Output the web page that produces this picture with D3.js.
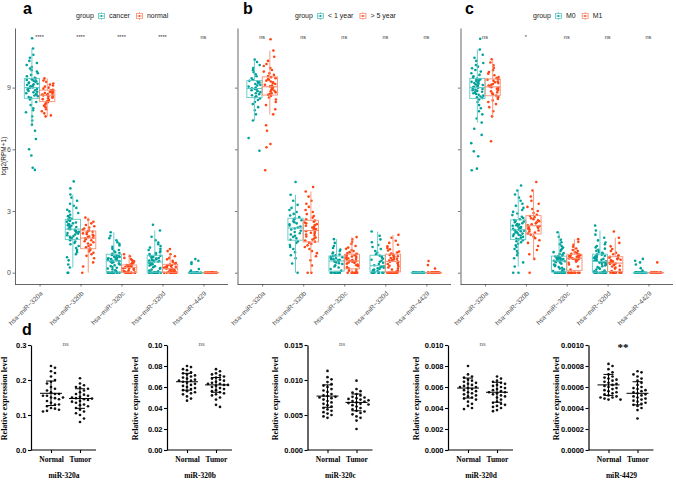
<!DOCTYPE html>
<html><head><meta charset="utf-8">
<script src="https://cdn.jsdelivr.net/npm/d3@7/dist/d3.min.js"></script>
<style>body{margin:0;background:#fff}svg{display:block}</style>
</head><body>
<svg id="chart" width="676" height="480"></svg>
<script>
// ---------------- DATA ----------------
const categories = ["hsa−miR−320a","hsa−miR−320b","hsa−miR−320c","hsa−miR−320d","hsa−miR−4429"];
const yTicks = [0, 3, 6, 9];
const groupsA = ["cancer", "normal"];
const groupsB = ["< 1 year", "> 5 year"];
const groupsC = ["M0", "M1"];
const sigA = ["****", "****", "****", "****", "ns"];
const sigB = ["ns", "ns", "ns", "ns", "ns"];
const sigC = ["ns", "*", "ns", "ns", "ns"];

// log2(RPM+1) values per category (one string per category)
const A_cancer = [
 "5.0 5.1 5.7 6.0 6.5 6.9 7.2 7.4 7.6 7.8 7.9 8.0 8.15 8.3 8.42 8.5 8.54 8.58 8.62 8.66 8.7 8.73 8.77 8.8 8.84 8.87 8.9 8.93 8.96 8.99 9.01 9.04 9.07 9.1 9.13 9.16 9.19 9.22 9.25 9.28 9.31 9.34 9.37 9.4 9.44 9.48 9.55 9.62 9.7 9.78 9.85 9.93 10.0 10.1 10.2 10.3 10.45 10.6 10.9 11.4",
 "0 0 0.25 0.4 0.6 0.75 0.9 1.0 1.1 1.2 1.3 1.38 1.45 1.52 1.58 1.62 1.66 1.7 1.74 1.78 1.82 1.86 1.9 1.93 1.96 1.99 2.02 2.05 2.08 2.11 2.13 2.16 2.19 2.22 2.25 2.28 2.31 2.34 2.37 2.4 2.44 2.48 2.52 2.55 2.59 2.62 2.68 2.75 2.82 2.9 2.98 3.06 3.15 3.25 3.35 3.5 3.65 3.8 4.1 4.44",
 "0 0 0 0 0 0 0 0 0 0 0 0 0 0 0 0.04 0.08 0.12 0.16 0.2 0.24 0.28 0.32 0.36 0.4 0.44 0.48 0.51 0.54 0.56 0.58 0.6 0.62 0.64 0.66 0.68 0.7 0.72 0.74 0.76 0.78 0.8 0.83 0.86 0.89 0.92 0.96 1.0 1.05 1.1 1.15 1.2 1.26 1.32 1.4 1.48 1.58 1.68 1.8 1.97",
 "0 0 0 0 0 0 0 0 0 0 0 0 0 0 0 0.03 0.07 0.11 0.15 0.19 0.23 0.27 0.31 0.35 0.38 0.41 0.44 0.47 0.49 0.51 0.53 0.55 0.57 0.59 0.61 0.63 0.65 0.67 0.69 0.71 0.73 0.76 0.79 0.82 0.84 0.87 0.91 0.95 1.0 1.05 1.1 1.16 1.22 1.3 1.38 1.47 1.58 1.75 2.05 2.33",
 "0 0 0 0 0 0 0 0 0 0 0 0 0 0 0 0 0 0 0 0 0 0 0 0 0.1 0.18 0.42 0.5 0.58 0.66"
];
const A_normal = [
 "7.6 7.65 7.75 7.85 7.95 8.05 8.12 8.18 8.24 8.29 8.33 8.36 8.4 8.44 8.48 8.51 8.54 8.57 8.6 8.62 8.64 8.66 8.69 8.71 8.74 8.76 8.79 8.82 8.85 8.87 8.9 8.95 9.0 9.05 9.1 9.15 9.2 9.28 9.35 9.45",
 "0 0.3 0.5 0.7 0.82 0.9 0.97 1.03 1.08 1.12 1.18 1.24 1.3 1.36 1.42 1.48 1.53 1.58 1.63 1.67 1.7 1.73 1.76 1.8 1.84 1.87 1.91 1.95 1.99 2.02 2.06 2.1 2.15 2.2 2.26 2.32 2.4 2.48 2.58 2.68",
 "0 0 0 0 0 0 0 0 0 0 0.02 0.05 0.08 0.11 0.14 0.17 0.19 0.21 0.23 0.24 0.26 0.28 0.29 0.31 0.32 0.33 0.34 0.35 0.36 0.37 0.39 0.42 0.46 0.5 0.55 0.6 0.66 0.72 0.8 0.9",
 "0 0 0 0 0 0 0 0 0 0 0.02 0.04 0.06 0.08 0.1 0.12 0.14 0.16 0.18 0.19 0.21 0.23 0.25 0.27 0.29 0.31 0.33 0.35 0.37 0.4 0.43 0.47 0.52 0.58 0.65 0.72 0.8 0.9 1.05 1.15",
 "0 0 0 0 0 0 0 0 0 0 0 0 0 0 0 0 0 0 0 0 0 0 0 0 0"
];
const B_lt1 = [
 "5.93 6.55 7.4 7.7 7.9 8.05 8.2 8.3 8.4 8.47 8.53 8.58 8.63 8.68 8.73 8.78 8.83 8.87 8.91 8.94 8.97 9.0 9.05 9.1 9.14 9.18 9.22 9.26 9.3 9.33 9.38 9.45 9.55 9.65 9.75 9.85 9.95 10.1 10.25 10.36",
 "0 0.45 0.7 0.85 1.0 1.15 1.25 1.35 1.45 1.52 1.6 1.67 1.74 1.8 1.86 1.92 1.98 2.04 2.1 2.15 2.2 2.25 2.3 2.35 2.4 2.45 2.5 2.55 2.6 2.63 2.7 2.78 2.86 2.95 3.05 3.15 3.3 3.5 3.79 4.41",
 "0 0 0 0 0 0 0 0 0 0 0.1 0.18 0.25 0.3 0.36 0.42 0.46 0.5 0.53 0.56 0.58 0.6 0.63 0.65 0.67 0.7 0.72 0.75 0.77 0.8 0.84 0.88 0.93 0.98 1.05 1.12 1.2 1.3 1.45 1.63",
 "0 0 0 0 0 0 0 0 0 0 0.05 0.08 0.12 0.15 0.18 0.21 0.24 0.27 0.3 0.32 0.36 0.42 0.48 0.53 0.58 0.63 0.68 0.73 0.78 0.83 0.9 0.97 1.05 1.15 1.25 1.35 1.48 1.62 1.8 2.0",
 "0 0 0 0 0 0 0 0 0 0 0 0 0 0 0 0 0 0 0 0 0 0 0 0 0"
];
const B_gt5 = [
 "4.98 6.1 6.26 6.9 7.17 7.7 7.95 8.15 8.3 8.42 8.52 8.6 8.65 8.69 8.73 8.77 8.81 8.85 8.89 8.92 8.95 8.98 9.01 9.03 9.06 9.1 9.14 9.18 9.22 9.26 9.3 9.34 9.38 9.42 9.46 9.51 9.56 9.62 9.7 9.78 9.86 9.95 10.05 10.15 10.3 10.5 10.8 11.35",
 "0 0 0.35 0.6 0.8 0.95 1.05 1.15 1.25 1.33 1.4 1.46 1.51 1.56 1.61 1.66 1.71 1.76 1.81 1.86 1.9 1.94 1.98 2.02 2.08 2.12 2.16 2.2 2.24 2.28 2.32 2.36 2.4 2.44 2.48 2.53 2.6 2.68 2.76 2.85 2.95 3.05 3.2 3.35 3.5 3.7 3.95 4.17",
 "0 0 0 0 0 0 0 0 0 0.05 0.1 0.15 0.2 0.24 0.28 0.32 0.36 0.4 0.44 0.47 0.5 0.53 0.55 0.56 0.58 0.61 0.64 0.67 0.7 0.73 0.76 0.79 0.82 0.85 0.87 0.89 0.92 0.96 1.0 1.05 1.1 1.16 1.22 1.3 1.4 1.5 1.62 1.73",
 "0 0 0 0 0 0 0 0 0 0 0 0 0.05 0.1 0.15 0.2 0.25 0.3 0.34 0.38 0.42 0.46 0.5 0.53 0.56 0.59 0.62 0.65 0.68 0.71 0.74 0.77 0.8 0.83 0.86 0.89 0.93 0.98 1.03 1.08 1.14 1.2 1.28 1.36 1.45 1.55 1.7 1.84",
 "0 0 0 0 0 0 0 0 0 0 0 0 0 0 0 0 0 0 0 0 0 0 0 0 0 0 0 0 0.2 0.37 0.57"
];
const C_M0 = [
 "4.98 5.06 5.66 5.9 6.3 6.7 7.0 7.3 7.5 7.7 7.85 8.0 8.15 8.3 8.42 8.49 8.53 8.57 8.61 8.65 8.69 8.73 8.77 8.8 8.84 8.87 8.9 8.93 8.96 8.99 9.01 9.04 9.07 9.1 9.13 9.16 9.19 9.22 9.25 9.28 9.31 9.34 9.37 9.4 9.44 9.48 9.55 9.62 9.7 9.78 9.86 9.94 10.02 10.1 10.2 10.3 10.45 10.6 10.85 11.38",
 "0 0 0.3 0.5 0.7 0.85 0.95 1.05 1.15 1.25 1.33 1.41 1.48 1.53 1.58 1.62 1.66 1.7 1.74 1.78 1.81 1.84 1.87 1.9 1.93 1.96 1.99 2.02 2.04 2.07 2.1 2.13 2.16 2.19 2.22 2.25 2.28 2.31 2.34 2.37 2.41 2.45 2.49 2.52 2.56 2.6 2.66 2.72 2.8 2.88 2.96 3.05 3.15 3.25 3.35 3.5 3.65 3.8 4.0 4.24",
 "0 0 0 0 0 0 0 0 0 0 0 0 0 0 0 0.04 0.08 0.12 0.16 0.2 0.24 0.28 0.32 0.36 0.4 0.44 0.48 0.51 0.54 0.56 0.58 0.6 0.61 0.63 0.64 0.66 0.67 0.69 0.7 0.72 0.73 0.75 0.77 0.79 0.8 0.83 0.87 0.91 0.95 1.0 1.05 1.1 1.16 1.22 1.3 1.38 1.48 1.6 1.75 1.97",
 "0 0 0 0 0 0 0 0 0 0 0 0 0 0 0 0.03 0.07 0.11 0.15 0.19 0.23 0.27 0.31 0.35 0.39 0.43 0.46 0.49 0.51 0.53 0.56 0.59 0.61 0.63 0.65 0.67 0.69 0.71 0.73 0.76 0.79 0.82 0.85 0.87 0.89 0.93 0.97 1.01 1.06 1.11 1.17 1.23 1.3 1.38 1.47 1.57 1.7 1.85 2.05 2.29",
 "0 0 0 0 0 0 0 0 0 0 0 0 0 0 0 0 0 0 0 0 0 0 0 0 0.1 0.22 0.4 0.5 0.58 0.67"
];
const C_M1 = [
 "6.39 7.6 7.85 8.05 8.2 8.3 8.38 8.45 8.51 8.56 8.62 8.67 8.72 8.77 8.82 8.87 8.91 8.95 8.99 9.02 9.06 9.1 9.14 9.18 9.22 9.26 9.3 9.34 9.38 9.41 9.46 9.52 9.6 9.68 9.76 9.85 9.95 10.08 10.22 10.38",
 "0 0.67 0.9 1.1 1.3 1.45 1.58 1.68 1.76 1.84 1.9 1.95 2.0 2.05 2.1 2.14 2.18 2.21 2.24 2.27 2.3 2.35 2.4 2.45 2.5 2.55 2.6 2.65 2.7 2.76 2.82 2.9 3.0 3.1 3.2 3.35 3.5 3.7 4.0 4.41",
 "0 0 0 0 0 0 0 0 0 0 0.15 0.3 0.4 0.48 0.54 0.59 0.63 0.66 0.68 0.69 0.71 0.73 0.75 0.77 0.79 0.81 0.83 0.85 0.87 0.89 0.92 0.96 1.0 1.05 1.1 1.18 1.26 1.36 1.5 1.63",
 "0 0 0 0 0 0 0 0 0 0 0.08 0.14 0.2 0.25 0.3 0.34 0.38 0.41 0.43 0.45 0.48 0.51 0.54 0.57 0.6 0.63 0.66 0.7 0.73 0.77 0.8 0.85 0.9 0.97 1.05 1.15 1.28 1.45 1.7 2.0",
 "0 0 0 0 0 0 0 0 0 0 0 0 0 0 0 0 0 0 0 0 0.5"
];

// Panel d: qPCR relative expression
const dGenes = ["miR-320a", "miR-320b", "miR-320c", "miR-320d", "miR-4429"];
const dGroups = ["Normal", "Tumor"];
const dSig = ["ns", "ns", "ns", "ns", "**"];
const dTickMax = [0.3, 0.10, 0.015, 0.010, 0.0010];
const dTickStep = [0.1, 0.02, 0.005, 0.002, 0.0002];
const dTickDecimals = [1, 2, 3, 3, 4];
const dNormal = [
 "0.24 0.235 0.225 0.22 0.21 0.2 0.195 0.19 0.18 0.175 0.17 0.165 0.16 0.16 0.155 0.155 0.15 0.15 0.148 0.145 0.14 0.135 0.13 0.13 0.125 0.12 0.118 0.115 0.112 0.11",
 "0.080 0.079 0.077 0.076 0.074 0.073 0.072 0.071 0.070 0.069 0.068 0.067 0.066 0.066 0.065 0.064 0.063 0.062 0.061 0.060 0.059 0.058 0.057 0.056 0.055 0.054 0.053 0.051 0.049 0.047",
 "0.0113 0.0104 0.0101 0.0097 0.0094 0.0092 0.009 0.0087 0.0085 0.0083 0.008 0.0078 0.0077 0.0076 0.0075 0.0074 0.0072 0.007 0.0068 0.0066 0.0064 0.0062 0.006 0.0058 0.0056 0.0054 0.0052 0.005 0.0048 0.0046",
 "0.008 0.0072 0.007 0.0069 0.0067 0.0066 0.0065 0.0064 0.0063 0.0062 0.0061 0.006 0.006 0.0059 0.0058 0.0057 0.0056 0.0055 0.0054 0.0053 0.0052 0.0051 0.005 0.0049 0.0048 0.0046 0.0044 0.0042 0.004 0.0039",
 "0.00082 0.0008 0.00077 0.00074 0.00072 0.0007 0.00069 0.00068 0.00067 0.00066 0.00065 0.00064 0.00063 0.00062 0.00061 0.0006 0.00059 0.00058 0.00057 0.00056 0.00055 0.00054 0.00053 0.00052 0.00051 0.0005 0.0005 0.00049 0.00048 0.00048"
];
const dTumor = [
 "0.205 0.19 0.185 0.18 0.178 0.175 0.17 0.165 0.16 0.158 0.155 0.152 0.15 0.148 0.147 0.145 0.143 0.14 0.138 0.135 0.13 0.128 0.125 0.12 0.115 0.11 0.105 0.1 0.09 0.08",
 "0.077 0.075 0.073 0.072 0.071 0.070 0.069 0.068 0.067 0.066 0.065 0.064 0.063 0.063 0.062 0.062 0.061 0.060 0.059 0.058 0.057 0.056 0.055 0.054 0.053 0.052 0.050 0.048 0.043 0.041",
 "0.0099 0.0087 0.0084 0.0082 0.008 0.0078 0.0076 0.0075 0.0074 0.0073 0.0072 0.0071 0.007 0.0069 0.0068 0.0067 0.0066 0.0065 0.0064 0.0062 0.006 0.0058 0.0056 0.0055 0.0053 0.0051 0.0048 0.0046 0.0042 0.003",
 "0.007 0.0068 0.0066 0.0065 0.0064 0.0063 0.0062 0.0061 0.006 0.0059 0.0058 0.0057 0.0056 0.0055 0.0055 0.0054 0.0053 0.0052 0.0051 0.005 0.0048 0.0046 0.0045 0.0044 0.0043 0.0042 0.0041 0.004 0.0038 0.0037",
 "0.00075 0.00074 0.00072 0.0007 0.00068 0.00066 0.00064 0.00062 0.0006 0.00059 0.00058 0.00057 0.00056 0.00055 0.00054 0.00053 0.00052 0.00051 0.0005 0.00049 0.00048 0.00047 0.00046 0.00045 0.00044 0.00043 0.00042 0.0004 0.00038 0.0003"
];
const dMeanNormal = [0.162, 0.065, 0.0077, 0.0059, 0.00062];
const dSDNormal = [0.035, 0.008, 0.0016, 0.00095, 0.0001];
const dMeanTumor = [0.147, 0.062, 0.0068, 0.0055, 0.00054];
const dSDTumor = [0.028, 0.007, 0.0012, 0.00095, 0.00011];

// ---------------- DRAWING ----------------
const parse = s => s.trim().split(/\s+/).map(Number);
const SANS = "'Liberation Sans', Arial, sans-serif";
const SERIF = "'Liberation Serif', 'Times New Roman', serif";
const ptCol = ["#00A19B", "#FF4514"];
const boxCol = ["#5EC8C3", "#F68F74"];
const svg = d3.select("#chart");

const y = d3.scaleLinear().domain([-0.55, 11.9]).range([284, 28]);

function boxStats(vals) {
  const s = vals.slice().sort(d3.ascending);
  const q1 = d3.quantile(s, 0.25), med = d3.quantile(s, 0.5), q3 = d3.quantile(s, 0.75);
  const iqr = q3 - q1;
  const lo = d3.min(s.filter(v => v >= q1 - 1.5 * iqr));
  const hi = d3.max(s.filter(v => v <= q3 + 1.5 * iqr));
  return {q1, med, q3, lo, hi};
}
// deterministic horizontal jitter offset in [-0.5, 0.5) (layout only)
const jit = (i, seed) => { const v = Math.sin((i + 1) * 12.9898 + seed * 78.233) * 43758.5453; return v - Math.floor(v) - 0.5; };

const panels = [
  {letter: "a", lx: 23, x0: 15, x1: 228, data: [A_cancer, A_normal], groups: groupsA, sig: sigA, legendX: 76, yLabels: true},
  {letter: "b", lx: 243, x0: 237.5, x1: 451, data: [B_lt1, B_gt5], groups: groupsB, sig: sigB, legendX: 295, yLabels: false},
  {letter: "c", lx: 465, x0: 460.5, x1: 673, data: [C_M0, C_M1], groups: groupsC, sig: sigC, legendX: 533, yLabels: false}
];

panels.forEach((p, pi) => {
  const g = svg.append("g");
  const x = d3.scalePoint().domain(categories).range([p.x0, p.x1]).padding(0.6);
  const step = x.step(), dodge = step * 0.1875, bw = step * 0.37, jw = step * 0.15;

  // points
  categories.forEach((cat, ci) => {
    p.data.forEach((grp, gi) => {
      const vals = parse(grp[ci]);
      const cx = x(cat) + (gi === 0 ? -dodge : dodge);
      g.append("g").selectAll("circle").data(vals).join("circle")
        .attr("cx", (d, i) => cx + jit(i, 1 + gi * 3.7 + ci * 2.1 + pi * 0.7) * 2 * jw)
        .attr("cy", d => y(d)).attr("r", 1.3).attr("fill", ptCol[gi]);
    });
  });
  // boxes on top
  categories.forEach((cat, ci) => {
    p.data.forEach((grp, gi) => {
      const st = boxStats(parse(grp[ci]));
      const cx = x(cat) + (gi === 0 ? -dodge : dodge);
      const bg = g.append("g").attr("stroke", boxCol[gi]).attr("stroke-width", 0.9).attr("fill", "none");
      bg.append("line").attr("x1", cx).attr("x2", cx).attr("y1", y(st.hi)).attr("y2", y(st.q3));
      bg.append("line").attr("x1", cx).attr("x2", cx).attr("y1", y(st.q1)).attr("y2", y(st.lo));
      bg.append("rect").attr("x", cx - bw / 2).attr("y", y(st.q3)).attr("width", bw).attr("height", Math.max(0.01, y(st.q1) - y(st.q3)));
      bg.append("line").attr("x1", cx - bw / 2).attr("x2", cx + bw / 2).attr("y1", y(st.med)).attr("y2", y(st.med)).attr("stroke-width", 1.1);
    });
    g.append("text").attr("x", x(cat)).attr("y", 38).attr("text-anchor", "middle").attr("dominant-baseline", "middle")
      .attr("font-family", SANS).attr("font-size", 5.5).attr("fill", "#333").text(p.sig[ci]);
  });

  // axes
  const ya = g.append("g").attr("transform", `translate(${p.x0},0)`)
    .call(d3.axisLeft(y).tickValues(yTicks).tickSize(2.5).tickSizeOuter(0).tickFormat(p.yLabels ? d3.format("d") : () => ""));
  ya.select(".domain").attr("stroke", "#555").attr("stroke-width", 0.9);
  ya.selectAll(".tick line").attr("stroke", "#555").attr("stroke-width", 0.8);
  ya.selectAll(".tick text").attr("font-family", SANS).attr("font-size", 7).attr("fill", "#4D4D4D").attr("x", -4);

  const xa = g.append("g").attr("transform", "translate(0,284)")
    .call(d3.axisBottom(x).tickSize(2.5).tickSizeOuter(0));
  xa.select(".domain").attr("stroke", "#555").attr("stroke-width", 0.9)
    .attr("d", `M${p.x0},0.5H${p.x1}`);
  xa.selectAll(".tick line").attr("stroke", "#555").attr("stroke-width", 0.8);
  xa.selectAll(".tick text").attr("font-family", SANS).attr("font-size", 6.6).attr("fill", "#4D4D4D")
    .attr("text-anchor", "end").attr("x", 0).attr("y", 0).attr("dy", 0)
    .attr("transform", "translate(3,10) rotate(-45)");

  // y title
  if (p.yLabels) {
    g.append("text").attr("transform", "translate(6,156) rotate(-90)").attr("text-anchor", "middle")
      .attr("font-family", SANS).attr("font-size", 6.5).attr("fill", "#222").text("log2(RPM+1)");
  }

  // panel letter
  svg.append("text").attr("x", p.lx).attr("y", 14).attr("font-family", SANS).attr("font-weight", "bold")
    .attr("font-size", 16).text(p.letter);

  // legend
  const lg = g.append("g").attr("font-family", SANS).attr("font-size", 7).attr("fill", "#222");
  let cx = p.legendX;
  const t0 = lg.append("text").attr("x", cx).attr("y", 16).attr("dominant-baseline", "middle").text("group");
  cx += t0.node().getComputedTextLength() + 4;
  p.groups.forEach((lab, gi) => {
    const ig = lg.append("g").attr("stroke", boxCol[gi]).attr("stroke-width", 0.8).attr("fill", "none");
    const ic = cx + 3.5;
    ig.append("rect").attr("x", ic - 3).attr("y", 13.5).attr("width", 6).attr("height", 5);
    ig.append("line").attr("x1", ic - 3).attr("x2", ic + 3).attr("y1", 16).attr("y2", 16);
    ig.append("line").attr("x1", ic).attr("x2", ic).attr("y1", 12).attr("y2", 13.5);
    ig.append("line").attr("x1", ic).attr("x2", ic).attr("y1", 18.5).attr("y2", 20);
    ig.append("circle").attr("cx", ic).attr("cy", 16).attr("r", 0.9).attr("fill", ptCol[gi]).attr("stroke", "none");
    cx += 7 + 4;
    const t = lg.append("text").attr("x", cx).attr("y", 16).attr("dominant-baseline", "middle").text(lab);
    cx += t.node().getComputedTextLength() + 6;
  });
});

// ---------------- PANEL d ----------------
svg.append("text").attr("x", 22).attr("y", 335).attr("font-family", SANS).attr("font-weight", "bold")
  .attr("font-size", 16).text("d");

const dAxisX = [31, 167, 307.5, 448, 588.5];
const dTop = 345, dBottom = 450;

function swarm(vals, cx, ys, sp) {
  const placed = [];
  return vals.map(v => {
    const yy = ys(v);
    let k = 0, xx;
    while (true) {
      const off = k === 0 ? 0 : (k % 2 ? 1 : -1) * Math.ceil(k / 2) * sp;
      xx = cx + off;
      if (placed.every(q => Math.hypot(q[0] - xx, q[1] - yy) >= sp)) break;
      k++;
    }
    placed.push([xx, yy]);
    return [xx, yy];
  });
}

dGenes.forEach((gene, i) => {
  const ax = dAxisX[i];
  const g = svg.append("g");
  const yd = d3.scaleLinear().domain([0, dTickMax[i]]).range([dBottom, dTop]);
  const xd = d3.scalePoint().domain(dGroups).range([ax + 20, ax + 49]);
  const nT = Math.round(dTickMax[i] / dTickStep[i]);
  const ticks = d3.range(0, nT + 1).map(k => k * dTickStep[i]);

  const ya = g.append("g").attr("transform", `translate(${ax},0)`)
    .call(d3.axisLeft(yd).tickValues(ticks).tickSize(3).tickSizeOuter(0).tickFormat(d3.format(`.${dTickDecimals[i]}f`)));
  ya.select(".domain").attr("stroke", "#000").attr("stroke-width", 1.2);
  ya.selectAll(".tick line").attr("stroke", "#000").attr("stroke-width", 1.1);
  ya.selectAll(".tick text").attr("font-family", SANS).attr("font-weight", "bold").attr("font-size", 7.5).attr("fill", "#000").attr("x", -4.5);

  const xa = g.append("g").attr("transform", `translate(0,${dBottom})`)
    .call(d3.axisBottom(xd).tickSize(3).tickSizeOuter(0));
  xa.select(".domain").attr("stroke", "#000").attr("stroke-width", 1.2).attr("d", `M${ax},0H${ax + 65}`);
  xa.selectAll(".tick line").attr("stroke", "#000").attr("stroke-width", 1.1);
  xa.selectAll(".tick text").attr("font-family", SERIF).attr("font-weight", "bold").attr("font-size", 7.5).attr("fill", "#000")
    .attr("y", 7).attr("dy", "0.71em");

  // y title
  g.append("text").attr("transform", `translate(${Math.max(5, ax - 31)},${(dTop + dBottom) / 2 + 1}) rotate(-90)`)
    .attr("text-anchor", "middle").attr("dominant-baseline", "middle")
    .attr("font-family", SERIF).attr("font-weight", "bold").attr("font-size", 8).text("Relative expression level");

  // gene title
  g.append("text").attr("x", ax + 33).attr("y", 476).attr("text-anchor", "middle").attr("dominant-baseline", "middle")
    .attr("font-family", SERIF).attr("font-weight", "bold").attr("font-size", 7.5).text(gene);

  // significance
  const isStar = dSig[i] !== "ns";
  g.append("text").attr("x", (xd("Normal") + xd("Tumor")) / 2).attr("y", isStar ? 348 : 344)
    .attr("text-anchor", "middle").attr("dominant-baseline", "middle")
    .attr("font-family", SERIF).attr("font-weight", isStar ? "bold" : "normal")
    .attr("font-size", isStar ? 11 : 7).attr("fill", isStar ? "#000" : "#666").text(dSig[i]);

  const sets = [
    {vals: parse(dNormal[i]), m: dMeanNormal[i], sd: dSDNormal[i], key: "Normal"},
    {vals: parse(dTumor[i]), m: dMeanTumor[i], sd: dSDTumor[i], key: "Tumor"}
  ];
  sets.forEach(s => {
    const cx = xd(s.key);
    const pts = swarm(s.vals, cx, yd, 4.0);
    g.append("g").selectAll("circle").data(pts).join("circle")
      .attr("cx", d => d[0]).attr("cy", d => d[1]).attr("r", 1.35).attr("fill", "#111");
    const eg = g.append("g").attr("stroke", "#000").attr("stroke-width", 1);
    eg.append("line").attr("x1", cx - 11).attr("x2", cx + 11).attr("y1", yd(s.m)).attr("y2", yd(s.m));
    eg.append("line").attr("x1", cx).attr("x2", cx).attr("y1", yd(s.m - s.sd)).attr("y2", yd(s.m + s.sd));
    eg.append("line").attr("x1", cx - 5).attr("x2", cx + 5).attr("y1", yd(s.m + s.sd)).attr("y2", yd(s.m + s.sd));
    eg.append("line").attr("x1", cx - 5).attr("x2", cx + 5).attr("y1", yd(s.m - s.sd)).attr("y2", yd(s.m - s.sd));
  });
});
</script>
</body></html>
